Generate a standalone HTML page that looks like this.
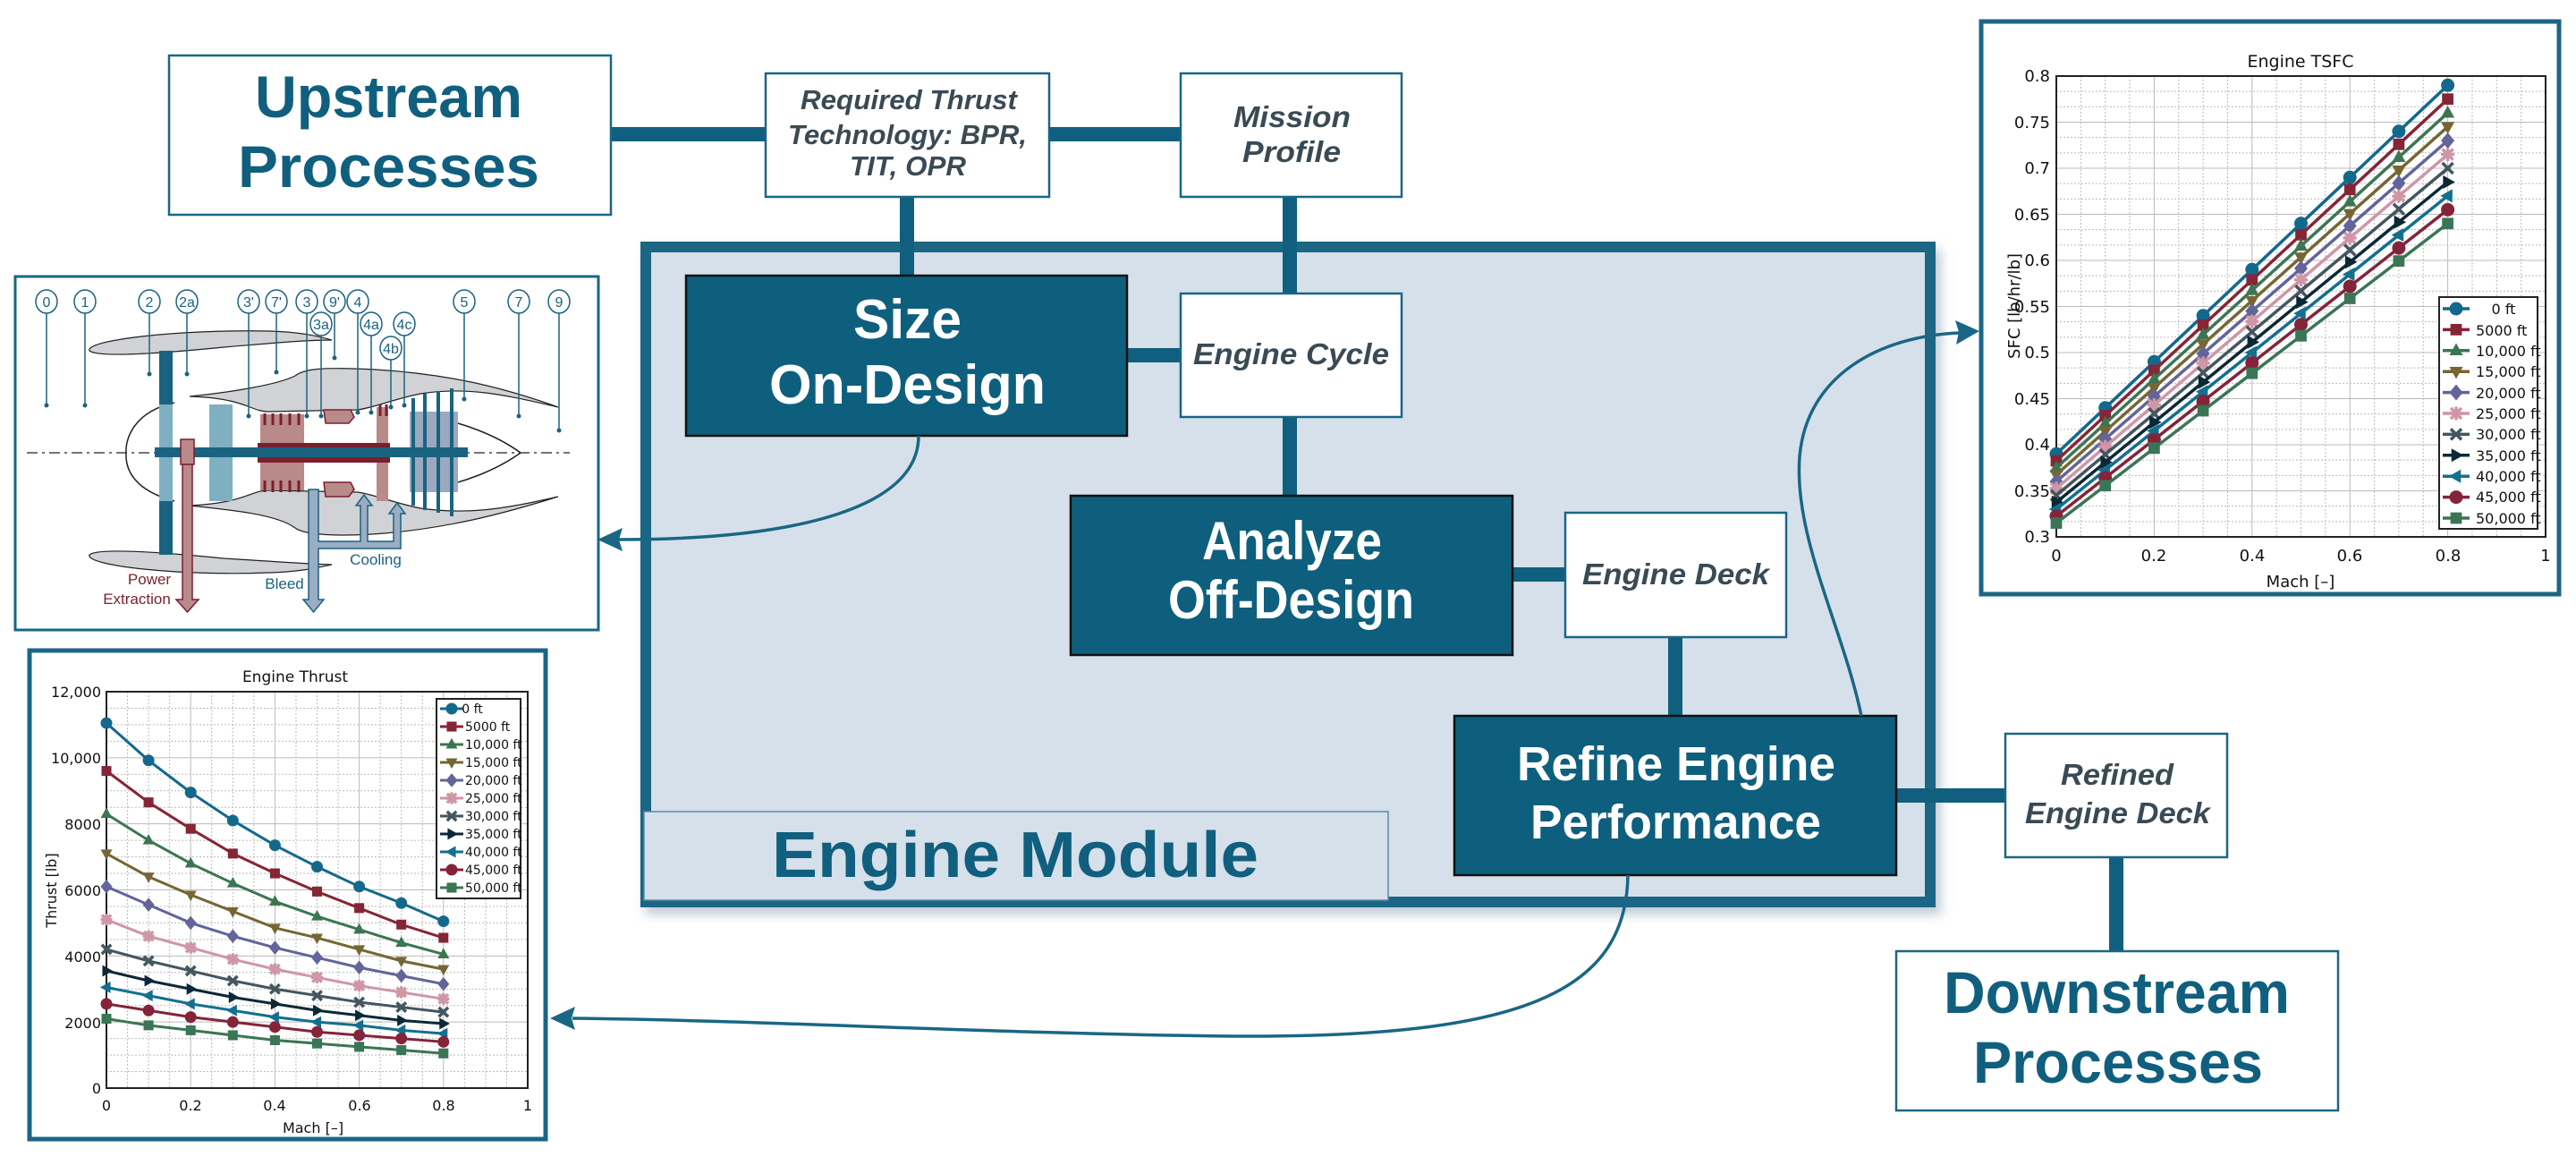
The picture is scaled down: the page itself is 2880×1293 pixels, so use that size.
<!DOCTYPE html>
<html><head><meta charset="utf-8">
<style>
html,body{margin:0;padding:0;background:#fff;}
svg{display:block;}
.b{font-family:"Liberation Sans Narrow","Liberation Sans",sans-serif;font-weight:bold;}
.i{font-family:"Liberation Sans Narrow","Liberation Sans",sans-serif;font-weight:bold;font-style:italic;fill:#3a4a55;}
.t{font-family:"DejaVu Sans","Liberation Sans",sans-serif;fill:#111;}
</style></head>
<body>
<svg id="s" width="2880" height="1293" viewBox="0 0 2880 1293" xmlns="http://www.w3.org/2000/svg">
<defs>
<filter id="sh" x="-5%" y="-5%" width="112%" height="115%"><feDropShadow dx="6" dy="8" stdDeviation="6" flood-color="#7f98aa" flood-opacity="0.5"/></filter>
</defs>
<rect x="683" y="142" width="175" height="16" fill="#105f7e"/>
<rect x="1173" y="142" width="150" height="16" fill="#105f7e"/>
<rect x="722" y="276" width="1436" height="732" fill="#d6e0ea" stroke="#1a6685" stroke-width="12" filter="url(#sh)"/>
<rect x="720" y="907" width="832" height="99" fill="#d6e0ea" stroke="#5b8aa5" stroke-width="1.5"/>
<text class="b" x="863" y="980" font-size="72" fill="#105f7e" textLength="544" lengthAdjust="spacingAndGlyphs">Engine Module</text>
<rect x="1006" y="220" width="16" height="90" fill="#105f7e"/>
<rect x="1434" y="220" width="16" height="110" fill="#105f7e"/>
<rect x="1434" y="466" width="16" height="90" fill="#105f7e"/>
<rect x="1260" y="389" width="62" height="16" fill="#105f7e"/>
<rect x="1691" y="634" width="61" height="16" fill="#105f7e"/>
<rect x="1865" y="712" width="16" height="90" fill="#105f7e"/>
<rect x="2120" y="881" width="124" height="16" fill="#105f7e"/>
<rect x="2358" y="958" width="16" height="106" fill="#105f7e"/>
<rect x="189" y="62" width="494" height="178" fill="#fff" stroke="#1a6685" stroke-width="2.5"/>
<text class="b" x="285" y="131" font-size="66" fill="#105f7e" textLength="299" lengthAdjust="spacingAndGlyphs">Upstream</text>
<text class="b" x="266" y="209" font-size="66" fill="#105f7e" textLength="337" lengthAdjust="spacingAndGlyphs">Processes</text>
<rect x="856" y="82" width="317" height="138" fill="#fff" stroke="#1a6685" stroke-width="2.5"/>
<text class="i" x="895" y="122" font-size="31" textLength="242" lengthAdjust="spacingAndGlyphs">Required Thrust</text>
<text class="i" x="881" y="161" font-size="31" textLength="267" lengthAdjust="spacingAndGlyphs">Technology: BPR,</text>
<text class="i" x="950" y="196" font-size="31" textLength="130" lengthAdjust="spacingAndGlyphs">TIT, OPR</text>
<rect x="1320" y="82" width="247" height="138" fill="#fff" stroke="#1a6685" stroke-width="2.5"/>
<text class="i" x="1379" y="142" font-size="33" textLength="131" lengthAdjust="spacingAndGlyphs">Mission</text>
<text class="i" x="1389" y="181" font-size="33" textLength="110" lengthAdjust="spacingAndGlyphs">Profile</text>
<rect x="767" y="308" width="493" height="179" fill="#0e5f7d" stroke="#111" stroke-width="2.5"/>
<text class="b" x="954" y="378" font-size="62" fill="#fff" textLength="121" lengthAdjust="spacingAndGlyphs">Size</text>
<text class="b" x="860" y="451" font-size="62" fill="#fff" textLength="309" lengthAdjust="spacingAndGlyphs">On-Design</text>
<rect x="1320" y="328" width="247" height="138" fill="#fff" stroke="#1a6685" stroke-width="2.5"/>
<text class="i" x="1334" y="407" font-size="33" textLength="219" lengthAdjust="spacingAndGlyphs">Engine Cycle</text>
<rect x="1197" y="554" width="494" height="178" fill="#0e5f7d" stroke="#111" stroke-width="2.5"/>
<text class="b" x="1344" y="625" font-size="60" fill="#fff" textLength="201" lengthAdjust="spacingAndGlyphs">Analyze</text>
<text class="b" x="1306" y="691" font-size="60" fill="#fff" textLength="275" lengthAdjust="spacingAndGlyphs">Off-Design</text>
<rect x="1750" y="573" width="247" height="139" fill="#fff" stroke="#1a6685" stroke-width="2.5"/>
<text class="i" x="1769" y="653" font-size="33" textLength="209" lengthAdjust="spacingAndGlyphs">Engine Deck</text>
<rect x="1626" y="800" width="494" height="178" fill="#0e5f7d" stroke="#111" stroke-width="2.5"/>
<text class="b" x="1696" y="872" font-size="54" fill="#fff" textLength="356" lengthAdjust="spacingAndGlyphs">Refine Engine</text>
<text class="b" x="1711" y="937" font-size="54" fill="#fff" textLength="325" lengthAdjust="spacingAndGlyphs">Performance</text>
<rect x="2242" y="820" width="248" height="138" fill="#fff" stroke="#1a6685" stroke-width="2.5"/>
<text class="i" x="2304" y="877" font-size="33" textLength="126" lengthAdjust="spacingAndGlyphs">Refined</text>
<text class="i" x="2264" y="920" font-size="33" textLength="207" lengthAdjust="spacingAndGlyphs">Engine Deck</text>
<rect x="2120" y="1063" width="494" height="178" fill="#fff" stroke="#1a6685" stroke-width="2.5"/>
<text class="b" x="2173" y="1132" font-size="66" fill="#105f7e" textLength="387" lengthAdjust="spacingAndGlyphs">Downstream</text>
<text class="b" x="2206" y="1210" font-size="66" fill="#105f7e" textLength="324" lengthAdjust="spacingAndGlyphs">Processes</text>

<g fill="none" stroke="#1a6685" stroke-width="3.5">
<path d="M1027,487 C1027,565 900,603 690,603"/>
<path d="M1820,978 C1818,1110 1700,1160 1380,1158 C1100,1155 850,1140 640,1138"/>
<path d="M2081,800 C2060,700 2005,600 2012,510 C2020,420 2100,376 2190,372"/>
</g>
<g fill="#1a6685">
<polygon points="668,603 696,590 692,603 696,616"/>
<polygon points="615,1138 643,1125 639,1138 643,1151"/>
<polygon points="2213,370 2186,358 2190,371 2187,385"/>
</g>

<rect x="17" y="309" width="652" height="395" fill="#fff" stroke="#1a6685" stroke-width="3"/>
<g id="eng">
<path d="M100,392 C95,380 200,368 300,370 C340,371 360,377 371,380 C340,380 300,384 250,388 C180,395 110,400 100,392 Z" fill="#d0d2d5" stroke="#222" stroke-width="1.2"/>
<path d="M100,620 C95,632 200,644 300,640 C340,639 360,633 371,631 C340,630 300,627 250,624 C180,617 110,612 100,620 Z" fill="#d0d2d5" stroke="#222" stroke-width="1.2"/>
<path d="M212,443 C260,438 310,430 330,420 C340,412 360,410 420,413 C500,418 560,432 624,455 C560,440 520,432 470,440 C440,446 420,455 400,458 L300,460 C280,460 275,445 212,443 Z" fill="#d0d2d5" stroke="#222" stroke-width="1.2"/>
<path d="M212,565 C260,570 310,575 330,590 C340,598 380,600 430,596 C500,590 560,575 624,555 C560,570 520,575 470,568 C440,562 420,553 400,550 L300,548 C280,548 275,562 212,565 Z" fill="#d0d2d5" stroke="#222" stroke-width="1.2"/>
<path d="M195,450 C150,460 140,490 141,506 C140,525 150,548 195,560" fill="none" stroke="#222" stroke-width="1.5"/>
<path d="M460,462 C520,470 560,490 582,506 C560,522 520,542 460,550" fill="none" stroke="#222" stroke-width="1.5"/>
<line x1="30" y1="506" x2="637" y2="506" stroke="#222" stroke-width="1.3" stroke-dasharray="12,5,3,5"/>
<rect x="234" y="452" width="26" height="108" fill="#7fb0c2"/>
<rect x="291" y="463" width="49" height="85" fill="#b98a8a"/>
<rect x="421" y="455" width="13" height="105" fill="#b98a8a"/>
<rect x="458" y="460" width="54" height="90" fill="#9aa9c0"/>
<rect x="288" y="495" width="148" height="5" fill="#7a1f2e"/>
<rect x="288" y="511" width="148" height="6" fill="#7a1f2e"/>
<path d="M362,458 L392,458 L396,466 L390,473 L364,473 Z M362,539 L392,539 L396,547 L390,555 L364,555 Z" fill="#b98a8a" stroke="#7a1f2e" stroke-width="1.5"/>
<rect x="178" y="392" width="15" height="228" fill="#1a6380"/>
<rect x="178" y="452" width="15" height="108" fill="#7fb0c2"/>
<rect x="173" y="500" width="350" height="11" fill="#1a6380"/>
<g stroke="#1a6380" stroke-width="4"><line x1="462" y1="445" x2="462" y2="565"/><line x1="475" y1="440" x2="475" y2="570"/><line x1="490" y1="437" x2="490" y2="573"/><line x1="505" y1="434" x2="505" y2="577"/></g>
<g stroke="#7a1f2e" stroke-width="3"><line x1="296" y1="462" x2="296" y2="475"/><line x1="305" y1="462" x2="305" y2="475"/><line x1="314" y1="462" x2="314" y2="475"/><line x1="324" y1="462" x2="324" y2="475"/><line x1="334" y1="462" x2="334" y2="475"/><line x1="296" y1="537" x2="296" y2="550"/><line x1="305" y1="537" x2="305" y2="550"/><line x1="314" y1="537" x2="314" y2="550"/><line x1="324" y1="537" x2="324" y2="550"/><line x1="334" y1="537" x2="334" y2="550"/><line x1="425" y1="452" x2="425" y2="465"/><line x1="432" y1="452" x2="432" y2="465"/></g>
<rect x="202" y="491" width="15" height="28" fill="#b98a8a" stroke="#7a1f2e" stroke-width="1.5"/>
<path d="M204,519 L215,519 L215,670 L222,670 L209.5,684 L197,670 L204,670 Z" fill="#b98a8a" stroke="#7a1f2e" stroke-width="1.5"/>
<path d="M345,547 L356,547 L356,605 L403,605 L403,565 L398,565 L407,553 L416,565 L411,565 L411,605 L440,605 L440,574 L435,574 L444,562 L453,574 L448,574 L448,613 L356,613 L356,670 L362,670 L350.5,684 L339,670 L345,670 Z" fill="#9aadc3" stroke="#1a6380" stroke-width="1.5"/>
<g font-family="Liberation Sans Narrow, Liberation Sans, sans-serif" font-size="17">
<text x="167" y="653" fill="#7a1f2e" text-anchor="middle">Power</text>
<text x="153" y="675" fill="#7a1f2e" text-anchor="middle">Extraction</text>
<text x="318" y="658" fill="#1a6380" text-anchor="middle">Bleed</text>
<text x="420" y="631" fill="#1a6380" text-anchor="middle">Cooling</text>
</g>
<g id="circ" font-family="Liberation Sans Narrow, Liberation Sans, sans-serif" font-size="16" fill="#1a6380" text-anchor="middle">
<text x="52" y="343">0</text><text x="95" y="343">1</text><text x="167" y="343">2</text><text x="209" y="343">2a</text><text x="278" y="343">3'</text><text x="309" y="343">7'</text><text x="343" y="343">3</text><text x="374" y="343">9'</text><text x="400" y="343">4</text><text x="519" y="343">5</text><text x="580" y="343">7</text><text x="625" y="343">9</text>
<text x="359" y="368">3a</text><text x="415" y="368">4a</text><text x="452" y="368">4c</text><text x="437" y="395">4b</text>
</g>
</g>

<rect x="2215" y="24" width="646" height="640" fill="#fff" stroke="#1a6685" stroke-width="5"/>
<g id="tsfc"></g>
<g class="t" font-size="18">
<text x="2572" y="75" text-anchor="middle" font-size="19">Engine TSFC</text>
<text x="2292" y="91" text-anchor="end">0.8</text><text x="2292" y="143" text-anchor="end">0.75</text><text x="2292" y="194" text-anchor="end">0.7</text><text x="2292" y="246" text-anchor="end">0.65</text><text x="2292" y="297" text-anchor="end">0.6</text><text x="2292" y="349" text-anchor="end">0.55</text><text x="2292" y="400" text-anchor="end">0.5</text><text x="2292" y="452" text-anchor="end">0.45</text><text x="2292" y="503" text-anchor="end">0.4</text><text x="2292" y="555" text-anchor="end">0.35</text><text x="2292" y="606" text-anchor="end">0.3</text>
<text x="2299" y="627" text-anchor="middle">0</text><text x="2408" y="627" text-anchor="middle">0.2</text><text x="2518" y="627" text-anchor="middle">0.4</text><text x="2627" y="627" text-anchor="middle">0.6</text><text x="2737" y="627" text-anchor="middle">0.8</text><text x="2846" y="627" text-anchor="middle">1</text>
<text x="2572" y="656" text-anchor="middle">Mach [–]</text>
<text transform="translate(2258,342) rotate(-90)" text-anchor="middle">SFC [lb/hr/lb]</text>
</g>
<g class="t" font-size="16">
<text x="2799" y="351" text-anchor="middle">0 ft</text><text x="2768" y="375">5000 ft</text><text x="2768" y="398">10,000 ft</text><text x="2768" y="421">15,000 ft</text><text x="2768" y="445">20,000 ft</text><text x="2768" y="468">25,000 ft</text><text x="2768" y="491">30,000 ft</text><text x="2768" y="515">35,000 ft</text><text x="2768" y="538">40,000 ft</text><text x="2768" y="561">45,000 ft</text><text x="2768" y="585">50,000 ft</text>
</g>

<rect x="33" y="727" width="577" height="546" fill="#fff" stroke="#1a6685" stroke-width="5"/>
<g id="thr"></g>
<g class="t" font-size="16">
<text x="330" y="762" text-anchor="middle" font-size="17">Engine Thrust</text>
<text x="113" y="779" text-anchor="end">12,000</text><text x="113" y="853" text-anchor="end">10,000</text><text x="113" y="927" text-anchor="end">8000</text><text x="113" y="1001" text-anchor="end">6000</text><text x="113" y="1075" text-anchor="end">4000</text><text x="113" y="1149" text-anchor="end">2000</text><text x="113" y="1222" text-anchor="end">0</text>
<text x="119" y="1241" text-anchor="middle">0</text><text x="213" y="1241" text-anchor="middle">0.2</text><text x="307" y="1241" text-anchor="middle">0.4</text><text x="402" y="1241" text-anchor="middle">0.6</text><text x="496" y="1241" text-anchor="middle">0.8</text><text x="590" y="1241" text-anchor="middle">1</text>
<text x="350" y="1266" text-anchor="middle">Mach [–]</text>
<text transform="translate(63,995) rotate(-90)" text-anchor="middle">Thrust [lb]</text>
</g>
<g class="t" font-size="14">
<text x="528" y="797" text-anchor="middle">0 ft</text><text x="520" y="817">5000 ft</text><text x="520" y="837">10,000 ft</text><text x="520" y="857">15,000 ft</text><text x="520" y="877">20,000 ft</text><text x="520" y="897">25,000 ft</text><text x="520" y="917">30,000 ft</text><text x="520" y="937">35,000 ft</text><text x="520" y="957">40,000 ft</text><text x="520" y="977">45,000 ft</text><text x="520" y="997">50,000 ft</text>
</g>
</svg>
<script>
(function(){
var NS="http://www.w3.org/2000/svg";
var cols=["#13698c","#862535","#3c7552","#756633","#62649a","#cf96a6","#44565f","#0b2836","#12708f","#84233a","#3a7555"];
var mk=["o","s","^","v","d","*","x",">","<","o","s"];
function el(p,n,a){var e=document.createElementNS(NS,n);for(var k in a)e.setAttribute(k,a[k]);p.appendChild(e);return e;}
function marker(g,t,x,y,r,c){
 if(t=="o")el(g,"circle",{cx:x,cy:y,r:r,fill:c});
 else if(t=="s")el(g,"rect",{x:x-r*.85,y:y-r*.85,width:r*1.7,height:r*1.7,fill:c});
 else if(t=="^")el(g,"polygon",{points:[x,y-r*1.1,x+r,y+r*.7,x-r,y+r*.7].join(","),fill:c});
 else if(t=="v")el(g,"polygon",{points:[x,y+r*1.1,x+r,y-r*.7,x-r,y-r*.7].join(","),fill:c});
 else if(t==">")el(g,"polygon",{points:[x+r*1.1,y,x-r*.7,y-r,x-r*.7,y+r].join(","),fill:c});
 else if(t=="<")el(g,"polygon",{points:[x-r*1.1,y,x+r*.7,y-r,x+r*.7,y+r].join(","),fill:c});
 else if(t=="d")el(g,"polygon",{points:[x,y-r*1.2,x+r,y,x,y+r*1.2,x-r,y].join(","),fill:c});
 else {el(g,"path",{d:"M"+(x-r*.8)+","+(y-r*.8)+"L"+(x+r*.8)+","+(y+r*.8)+"M"+(x+r*.8)+","+(y-r*.8)+"L"+(x-r*.8)+","+(y+r*.8)+(t=="*"?"M"+(x-r)+","+y+"L"+(x+r)+","+y+"M"+x+","+(y-r)+"L"+x+","+(y+r):""),stroke:c,"stroke-width":3.5,fill:"none"});}
}
function chart(id,x0,y0,x1,y1,ymin,ymax,nyMaj,nyMin,data,r,lw,leg){
 var g=document.getElementById(id);
 function X(m){return x0+(x1-x0)*m;}function Y(v){return y1-(y1-y0)*(v-ymin)/(ymax-ymin);}
 for(var i=0;i<=20;i++){var x=x0+(x1-x0)*i/20;el(g,"line",{x1:x,y1:y0,x2:x,y2:y1,stroke:"#bbb","stroke-width":1,"stroke-dasharray":i%4?"2,2":"none"});}
 for(var j=0;j<=nyMin;j++){var y=y0+(y1-y0)*j/nyMin;el(g,"line",{x1:x0,y1:y,x2:x1,y2:y,stroke:"#bbb","stroke-width":1,"stroke-dasharray":(j%(nyMin/nyMaj))?"2,2":"none"});}
 el(g,"rect",{x:x0,y:y0,width:x1-x0,height:y1-y0,fill:"none",stroke:"#222","stroke-width":2});
 data.forEach(function(d,k){var pts=d.map(function(v,i){return X(i/10)+","+Y(v);}).join(" ");
  el(g,"polyline",{points:pts,fill:"none",stroke:cols[k],"stroke-width":lw});
  d.forEach(function(v,i){marker(g,mk[k],X(i/10),Y(v),r,cols[k]);});});
 el(g,"rect",{x:leg[0],y:leg[1],width:leg[2]-leg[0],height:leg[3]-leg[1],fill:"#fff",stroke:"#222","stroke-width":2});
 for(var k=0;k<11;k++){var y=leg[4]+k*leg[5];el(g,"line",{x1:leg[0]+4,y1:y,x2:leg[0]+leg[6],y2:y,stroke:cols[k],"stroke-width":lw});marker(g,mk[k],leg[0]+4+(leg[6]-4)/2,y,r,cols[k]);}
}
var ts=[];for(var k=0;k<11;k++){var a=0.39-k*0.0075,b=0.79-k*0.015,row=[];for(var i=0;i<9;i++)row.push(a+(b-a)*i/8);ts.push(row);}
chart("tsfc",2299,85,2846,600,0.3,0.8,10,30,ts,7.5,3.5,[2727,332,2837,591,345,23.4,34]);
var th=[[11050,9920,8950,8100,7350,6700,6100,5600,5050],[9600,8650,7850,7100,6500,5950,5450,4950,4550],[8300,7500,6800,6200,5650,5200,4800,4400,4050],[7100,6400,5850,5350,4850,4550,4200,3850,3600],[6100,5550,5000,4600,4250,3950,3650,3400,3150],[5100,4600,4250,3900,3600,3350,3100,2900,2700],[4200,3850,3550,3250,3000,2800,2600,2450,2300],[3550,3250,3000,2750,2550,2350,2200,2050,1950],[3050,2800,2550,2350,2150,2000,1900,1750,1650],[2550,2350,2150,2000,1850,1700,1600,1500,1400],[2100,1900,1750,1600,1450,1350,1250,1150,1050]];
chart("thr",119,773,590,1216,0,12000,6,24,th,6.5,3,[488,781,582,1004,792,20,30]);
var eg=document.getElementById("eng"),cs=[[52,337],[95,337],[167,337],[209,337],[278,337],[309,337],[343,337],[374,337],[400,337],[519,337],[580,337],[625,337],[359,362],[415,362],[452,362],[437,389]];
var dots=[[52,453],[95,453],[167,418],[209,418],[278,465],[309,416],[343,465],[374,400],[400,461],[519,446],[580,465],[625,481],[359,465],[415,461],[452,453],[437,455]];
cs.forEach(function(c,i){el(eg,"line",{x1:c[0],y1:c[1]+13,x2:dots[i][0],y2:dots[i][1],stroke:"#1a6380","stroke-width":1.5});el(eg,"circle",{cx:dots[i][0],cy:dots[i][1],r:2.5,fill:"#1a6380"});el(eg,"ellipse",{cx:c[0],cy:c[1],rx:12,ry:13,fill:"#fff",stroke:"#1a6380","stroke-width":1.5});});
eg.appendChild(document.getElementById("circ"));
})();
</script>
</body></html>
